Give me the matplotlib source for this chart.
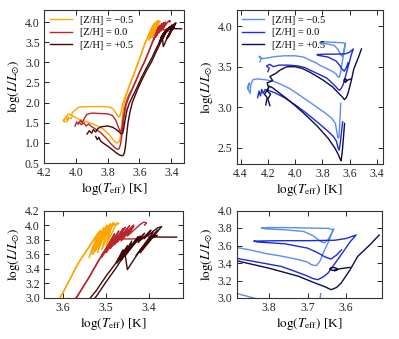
import matplotlib
matplotlib.use('Agg')
import matplotlib.pyplot as plt

plt.rcParams['font.family'] = ['Liberation Serif', 'DejaVu Serif']
plt.rcParams['mathtext.fontset'] = 'stix'

# ---------------- data: low-mass tracks (top-left / bottom-left) ----------------
labels = ['[Z/H] = \u22120.5', '[Z/H] = 0.0', '[Z/H] = +0.5']
warm_colors = ['#FFA500', '#B8262B', '#420707']
cool_colors = ['#5B8CF0', '#1C2BD8', '#0C0C4A']

o1_t = [4.075, 4.07, 4.08, 4.065, 4.055, 4.06, 4.045, 4.03, 4.02, 4.0, 3.98, 3.93, 3.87, 3.82, 3.78, 3.76,
        3.745, 3.735, 3.725, 3.715, 3.705, 3.69, 3.675, 3.655, 3.63, 3.607, 3.585, 3.565, 3.553,
        3.515, 3.53, 3.505, 3.52, 3.495, 3.51, 3.485, 3.50, 3.475, 3.47, 3.478, 3.485]
o1_l = [1.58, 1.52, 1.55, 1.62, 1.57, 1.66, 1.72, 1.68, 1.76, 1.83, 1.89, 1.9, 1.9, 1.9, 1.88, 1.82,
        1.72, 1.66, 1.64, 1.78, 1.98, 2.15, 2.3, 2.5, 2.75, 3.0, 3.25, 3.48, 3.58,
        3.92, 3.60, 3.96, 3.62, 3.99, 3.66, 4.01, 3.72, 4.03, 4.02, 4.0, 4.03]
o2_t = [4.06, 4.045, 4.05, 4.03, 4.02, 4.0, 3.97, 3.93, 3.88, 3.83, 3.79, 3.765, 3.75, 3.742, 3.735, 3.727,
        3.72, 3.713, 3.706, 3.698, 3.685, 3.665, 3.64, 3.615, 3.592, 3.572, 3.556,
        3.52, 3.54, 3.512, 3.532, 3.505, 3.525, 3.498, 3.518, 3.49, 3.51, 3.48, 3.505, 3.483, 3.5,
        3.488, 3.496]
o2_l = [1.52, 1.58, 1.64, 1.6, 1.68, 1.62, 1.57, 1.52, 1.45, 1.35, 1.2, 1.08, 1.02, 1.0, 1.0, 1.03,
        1.15, 1.4, 1.7, 1.95, 2.15, 2.4, 2.67, 2.93, 3.17, 3.4, 3.56,
        3.88, 3.55, 3.93, 3.6, 3.97, 3.64, 4.0, 3.7, 4.02, 3.78, 4.03, 3.82, 4.02, 3.88,
        4.01, 3.93]

r1_t = [4.005, 3.995, 3.985, 3.97, 3.96, 3.945, 3.93, 3.9, 3.85, 3.8, 3.77, 3.75, 3.735, 3.725, 3.718, 3.71,
        3.702, 3.693, 3.68, 3.665, 3.645, 3.62, 3.595, 3.567, 3.54, 3.517,
        3.495, 3.51, 3.485, 3.50, 3.475, 3.49, 3.465, 3.48, 3.45, 3.465, 3.435, 3.45, 3.42, 3.412, 3.405, 3.41]
r1_l = [1.42, 1.52, 1.46, 1.56, 1.5, 1.62, 1.71, 1.74, 1.73, 1.72, 1.68, 1.57, 1.42, 1.31, 1.27, 1.38,
        1.62, 1.85, 2.05, 2.2, 2.35, 2.57, 2.8, 3.03, 3.28, 3.52,
        3.72, 3.58, 3.8, 3.63, 3.86, 3.68, 3.9, 3.73, 3.95, 3.78, 3.98, 3.85, 4.01, 4.04, 4.03, 4.0]
r2_t = [3.98, 3.965, 3.95, 3.935, 3.92, 3.9, 3.87, 3.84, 3.81, 3.78, 3.76, 3.745, 3.735, 3.727, 3.72, 3.712,
        3.703, 3.694, 3.683, 3.668, 3.645, 3.62, 3.595, 3.567, 3.54, 3.52,
        3.48, 3.51, 3.47, 3.50, 3.46, 3.49, 3.455, 3.485, 3.445, 3.475, 3.435, 3.466, 3.44, 3.41]
r2_l = [1.52, 1.45, 1.5, 1.42, 1.47, 1.4, 1.33, 1.24, 1.12, 0.98, 0.9, 0.85, 0.84, 0.86, 0.95, 1.15,
        1.45, 1.72, 1.95, 2.12, 2.33, 2.56, 2.79, 3.02, 3.28, 3.48,
        3.88, 3.56, 3.92, 3.62, 3.95, 3.68, 3.97, 3.72, 3.99, 3.76, 4.0, 3.81, 3.81, 3.815]

d1_t = [3.93, 3.915, 3.9, 3.89, 3.875, 3.86, 3.84, 3.8, 3.77, 3.745, 3.725, 3.712, 3.704, 3.697, 3.688, 3.678,
        3.664, 3.645, 3.615, 3.59, 3.555, 3.523, 3.5, 3.478,
        3.46, 3.47, 3.45, 3.46, 3.44, 3.45, 3.425, 3.44, 3.41, 3.425, 3.395, 3.41, 3.38, 3.37,
        3.42, 3.39, 3.43, 3.38]
d1_l = [1.22, 1.3, 1.24, 1.33, 1.27, 1.36, 1.4, 1.42, 1.39, 1.33, 1.26, 1.22, 1.25, 1.4, 1.62, 1.82,
        1.98, 2.14, 2.38, 2.6, 2.87, 3.1, 3.3, 3.47,
        3.66, 3.52, 3.72, 3.58, 3.78, 3.64, 3.84, 3.7, 3.89, 3.76, 3.93, 3.82, 3.96, 3.98,
        3.62, 3.9, 3.58, 3.93]
d2_t = [3.875, 3.865, 3.855, 3.845, 3.83, 3.8, 3.77, 3.745, 3.725, 3.71, 3.702, 3.694, 3.687, 3.68, 3.672,
        3.66, 3.645, 3.615, 3.59, 3.555, 3.523, 3.5, 3.478,
        3.44, 3.475, 3.43, 3.465, 3.42, 3.455, 3.45, 3.42, 3.40, 3.38, 3.40, 3.37, 3.335]
d2_l = [1.16, 1.08, 1.14, 1.05, 1.0, 0.92, 0.83, 0.75, 0.7, 0.68, 0.69, 0.76, 0.95, 1.22, 1.5,
        1.76, 2.0, 2.3, 2.52, 2.8, 3.02, 3.22, 3.4,
        3.74, 3.48, 3.8, 3.52, 3.85, 3.58, 3.39, 3.66, 3.8, 3.86, 3.84, 3.835, 3.835]

# ---------------- data: intermediate-mass tracks (top-right / bottom-right) ----------------
lb1_t = [4.345, 4.335, 4.35, 4.33, 4.325, 4.31, 4.28, 4.22, 4.16, 4.1, 4.04, 3.96, 3.9, 3.84, 3.78, 3.73,
         3.705, 3.695, 3.686, 3.679, 3.673, 3.669, 3.666]
lb1_l = [3.22, 3.3, 3.25, 3.17, 3.28, 3.34, 3.35, 3.34, 3.32, 3.28, 3.23, 3.14, 3.07, 3.0, 2.93, 2.86,
         2.8, 2.7, 2.62, 2.63, 2.8, 2.95, 3.05]
lb2_t = [4.26, 4.25, 4.265, 4.24, 4.2, 4.15, 4.08, 4.0, 3.94, 3.889, 3.85, 3.811, 3.77, 3.725, 3.7, 3.69,
         3.677, 3.668, 3.66, 3.645, 3.634, 3.645, 3.70, 3.76, 3.80, 3.82, 3.81, 3.76, 3.71, 3.685, 3.668,
         3.657, 3.648, 3.64, 3.632]
lb2_l = [3.56, 3.6, 3.63, 3.6, 3.61, 3.625, 3.635, 3.635, 3.62, 3.58, 3.55, 3.51, 3.48, 3.44, 3.41, 3.38,
         3.37, 3.42, 3.51, 3.65, 3.78, 3.795, 3.80, 3.805, 3.805, 3.80, 3.79, 3.78, 3.76, 3.71, 3.65,
         3.63, 3.66, 3.72, 3.79]

b1_t = [4.275, 4.265, 4.255, 4.245, 4.235, 4.22, 4.15, 4.08, 4.0, 3.92, 3.84, 3.77, 3.72, 3.697, 3.686,
        3.678, 3.67, 3.66, 3.652]
b1_l = [3.12, 3.2, 3.14, 3.22, 3.17, 3.22, 3.18, 3.12, 3.03, 2.93, 2.82, 2.72, 2.64, 2.58, 2.5,
        2.47, 2.55, 2.7, 2.82]
b2_t = [4.2, 4.19, 4.21, 4.185, 4.16, 4.12, 4.05, 3.98, 3.93, 3.889, 3.83, 3.768, 3.73, 3.70, 3.685, 3.673,
        3.66, 3.647, 3.625, 3.604, 3.59, 3.574, 3.60, 3.63, 3.70, 3.77, 3.84, 3.83, 3.76, 3.70, 3.675,
        3.655, 3.64, 3.625, 3.612]
b2_l = [3.44, 3.48, 3.51, 3.53, 3.5, 3.52, 3.52, 3.51, 3.49, 3.456, 3.41, 3.36, 3.3, 3.25, 3.22, 3.21,
        3.24, 3.285, 3.42, 3.55, 3.64, 3.72, 3.68, 3.66, 3.655, 3.655, 3.65, 3.64, 3.62, 3.57, 3.52,
        3.47, 3.445, 3.49, 3.55]

n1_t = [4.185, 4.2, 4.18, 4.205, 4.19, 4.165, 4.15, 4.08, 4.0, 3.92, 3.84, 3.76, 3.71, 3.685, 3.67,
        3.663, 3.655, 3.645, 3.638]
n1_l = [3.02, 3.1, 3.16, 3.2, 3.26, 3.24, 3.22, 3.13, 3.02, 2.9, 2.77, 2.62, 2.5, 2.42, 2.36,
        2.34, 2.45, 2.65, 2.8]
n2_t = [4.215, 4.205, 4.225, 4.195, 4.205, 4.165, 4.185, 4.14, 4.11, 4.06, 4.0, 3.95, 3.889, 3.80, 3.725,
        3.68, 3.656, 3.639, 3.625, 3.613, 3.59, 3.57, 3.54, 3.514]
n2_l = [3.03, 3.12, 3.16, 3.24, 3.3, 3.33, 3.38, 3.42, 3.46, 3.5, 3.5, 3.48, 3.43, 3.34, 3.25,
        3.17, 3.13, 3.095, 3.12, 3.17, 3.32, 3.475, 3.6, 3.72]
n3_t = [3.59, 3.615, 3.635, 3.643, 3.638, 3.627, 3.622, 3.63]
n3_l = [3.35, 3.335, 3.315, 3.33, 3.35, 3.345, 3.325, 3.31]

warm_tracks = [[(o1_t, o1_l), (o2_t, o2_l)],
               [(r1_t, r1_l), (r2_t, r2_l)],
               [(d1_t, d1_l), (d2_t, d2_l)]]
cool_tracks = [[(lb1_t, lb1_l), (lb2_t, lb2_l)],
               [(b1_t, b1_l), (b2_t, b2_l)],
               [(n1_t, n1_l), (n2_t, n2_l), (n3_t, n3_l)]]

W, H = 399, 339
fig = plt.figure(figsize=(W / 100, H / 100), dpi=100)


def box(l, r, t, b):
    return [l / W, 1 - b / H, (r - l) / W, (b - t) / H]


ax_tl = fig.add_axes(box(44, 184, 10, 163))
ax_tr = fig.add_axes(box(236.5, 382.5, 10, 164))
ax_bl = fig.add_axes(box(44, 183, 210.5, 298))
ax_br = fig.add_axes(box(236.5, 381.5, 210.5, 298))


def draw(ax, groups, colors, legend):
    for grp, c, lab in zip(groups, colors, labels):
        for i, (t, l) in enumerate(grp):
            ax.plot(t, l, color=c, lw=1.0, label=lab if i == 0 else None)
    if legend:
        ax.legend(loc='upper left', frameon=False, fontsize=7.5, handlelength=2.1,
                  handletextpad=0.8, labelspacing=0.3, borderaxespad=0.3,
                  borderpad=0.25)


draw(ax_tl, warm_tracks, warm_colors, True)
draw(ax_bl, warm_tracks, warm_colors, False)
draw(ax_tr, cool_tracks, cool_colors, True)
draw(ax_br, cool_tracks, cool_colors, False)

ax_tl.set_xlim(4.2, 3.32)
ax_tl.set_ylim(0.5, 4.3)
ax_tl.set_xticks([4.2, 4.0, 3.8, 3.6, 3.4])
ax_tl.set_yticks([0.5, 1.0, 1.5, 2.0, 2.5, 3.0, 3.5, 4.0])

ax_tr.set_xlim(4.43, 3.36)
ax_tr.set_ylim(2.3, 4.2)
ax_tr.set_xticks([4.4, 4.2, 4.0, 3.8, 3.6, 3.4])
ax_tr.set_yticks([2.5, 3.0, 3.5, 4.0])

ax_bl.set_xlim(3.645, 3.32)
ax_bl.set_ylim(3.0, 4.2)
ax_bl.set_xticks([3.6, 3.5, 3.4])
ax_bl.set_yticks([3.0, 3.2, 3.4, 3.6, 3.8, 4.0, 4.2])

ax_br.set_xlim(3.885, 3.508)
ax_br.set_ylim(3.0, 4.0)
ax_br.set_xticks([3.8, 3.7, 3.6])
ax_br.set_yticks([3.0, 3.2, 3.4, 3.6, 3.8, 4.0])

for ax in (ax_tl, ax_tr, ax_bl, ax_br):
    ax.tick_params(direction='in', top=True, right=True, length=3.5, width=0.7,
                   labelsize=8.5, colors='0.15', pad=3)
    for s in ax.spines.values():
        s.set_color('0.2')
        s.set_linewidth(0.8)
    ax.set_xlabel(r'$\log(T_{\rm eff})$ [K]', fontsize=9.5, labelpad=1)
    ax.set_ylabel(r'$\log(L/L_{\odot})$', fontsize=9.5, labelpad=2)

fig.savefig('out.png', dpi=100)
